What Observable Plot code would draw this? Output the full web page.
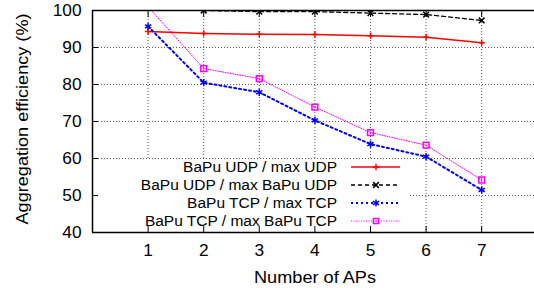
<!DOCTYPE html>
<html><head><meta charset="utf-8">
<script src="https://cdn.jsdelivr.net/npm/d3@7"></script>
<script src="https://cdn.jsdelivr.net/npm/@observablehq/plot@0.6"></script>
<style>
body{margin:0;background:#fff}
#chart{position:relative;width:534px;height:288px;overflow:hidden}
svg{font-family:"Liberation Sans",Arial,sans-serif}
</style>
</head><body><div id="chart"></div>
<script>
// ---- data ----
const aps = [1, 2, 3, 4, 5, 6, 7];
const seriesNames = [
  "BaPu UDP / max UDP",
  "BaPu UDP / max BaPu UDP",
  "BaPu TCP / max TCP",
  "BaPu TCP / max BaPu TCP"
];
const udpOverMaxUdp     = [94.3, 93.8, 93.6, 93.5, 93.2, 92.8, 91.3];
const udpOverMaxBapuUdp = [null, 100, 99.7, 99.7, 99.3, 98.9, 97.3];
const tcpOverMaxTcp     = [95.7, 80.5, 77.9, 70.3, 63.9, 60.5, 51.5];
const tcpOverMaxBapuTcp = [101, 84.3, 81.6, 73.9, 67.0, 63.6, 54.2];
const yTicks = [40, 50, 60, 70, 80, 90, 100];
const xTicks = [1, 2, 3, 4, 5, 6, 7];
const xDomain = [0, 7.95];
const xLabel = "Number of APs";
const yLabel = "Aggregation efficiency (%)";

// ---- styles ----
const styles = [
  {stroke: "#ff0000", width: 1.5, dash: null,    symbol: "plus",     r: 2.2},
  {stroke: "#000000", width: 1.3, dash: "4,3",   symbol: "times",    r: 2.7},
  {stroke: "#0000ff", width: 2,   dash: "2,3",   symbol: "asterisk", r: 3.4},
  {stroke: "#ff00ff", width: 1,   dash: "1,1.5", symbol: "square",   r: 3.3}
];
const values = [udpOverMaxUdp, udpOverMaxBapuUdp, tcpOverMaxTcp, tcpOverMaxBapuTcp];
const rows = seriesNames.flatMap((name, i) =>
  aps.map((x, j) => ({series: name, x, y: values[i][j]}))).filter(d => d.y != null);

const TICKFONT = 16, LABELFONT = 16.5, LEGFONT = 15.5;
const seriesMarks = seriesNames.flatMap((name, i) => {
  const s = styles[i];
  const data = rows.filter(d => d.series === name);
  const marks = [
    Plot.line(data, {x: "x", y: "y", stroke: s.stroke, strokeWidth: s.width,
      strokeDasharray: s.dash, clip: true}),
    Plot.dot(data, {x: "x", y: "y", symbol: s.symbol, r: s.r, stroke: s.stroke,
      fill: "none", strokeWidth: 1.5, clip: true})
  ];
  if (s.symbol === "square") marks.push(Plot.dot(data, {x: "x", y: "y", r: 0.8, fill: s.stroke, stroke: null, clip: true}));
  return marks;
});

const yDomain = [yTicks[0], yTicks[yTicks.length - 1]];
const chart = Plot.plot({
  width: 534, height: 288,
  marginLeft: 92, marginRight: 0, marginTop: 10, marginBottom: 56,
  style: {fontFamily: '"Liberation Sans",Arial,sans-serif', fontSize: TICKFONT + "px", background: "#fff", color: "#000"},
  x: {domain: xDomain},
  y: {domain: yDomain},
  marks: [
    Plot.gridX(xTicks, {stroke: "#555", strokeOpacity: 1, strokeDasharray: "1,2"}),
    Plot.gridY(yTicks.slice(1, -1), {stroke: "#555", strokeOpacity: 1, strokeDasharray: "1,2"}),
    ...seriesMarks,
    Plot.ruleX([xDomain[0]], {stroke: "#000", strokeWidth: 1.5}),
    Plot.ruleY(yDomain, {stroke: "#000", strokeWidth: 1.5}),
    Plot.axisY(yTicks, {anchor: "left", tickSize: -6, tickPadding: 17, label: null, tickFormat: d => d}),
    Plot.axisX(xTicks, {anchor: "bottom", tickSize: -6, tickPadding: 18, label: null, tickFormat: d => d}),
    Plot.axisX(xTicks, {anchor: "top", tickSize: -6, label: null, tickFormat: () => ""})
  ]
});
document.getElementById("chart").appendChild(chart);

// widen tick-label glyphs slightly, as in the reference rendering
chart.querySelectorAll('[aria-label$="tick label"] text').forEach(t => {
  const w = t.getComputedTextLength();
  if (w > 0) { t.setAttribute("textLength", w * 1.08); t.setAttribute("lengthAdjust", "spacingAndGlyphs"); }
});

// ---- layout extras: legend box, legend, axis titles ----
const svg = d3.select(chart);
const firstLine = chart.querySelector('[aria-label="line"]');
const box = document.createElementNS("http://www.w3.org/2000/svg", "rect");
box.setAttribute("x", 93); box.setAttribute("y", 159);
box.setAttribute("width", 317); box.setAttribute("height", 72);
box.setAttribute("fill", "#fff");
chart.insertBefore(box, firstLine);

const leg = svg.append("g");
const symMap = {plus: d3.symbolPlus, times: d3.symbolTimes, asterisk: d3.symbolAsterisk, square: d3.symbolSquare2};
seriesNames.forEach((name, i) => {
  const s = styles[i];
  const y = 167 + i * 18;
  leg.append("text").attr("x", 337).attr("y", y).attr("text-anchor", "end")
    .attr("dy", "0.35em").attr("font-size", LEGFONT).text(name);
  leg.append("line").attr("x1", 351).attr("x2", 400).attr("y1", y).attr("y2", y)
    .attr("stroke", s.stroke).attr("stroke-width", s.width).attr("stroke-dasharray", s.dash);
  leg.append("path").attr("transform", `translate(376,${y})`)
    .attr("d", d3.symbol(symMap[s.symbol], Math.PI * s.r * s.r)())
    .attr("fill", "none").attr("stroke", s.stroke).attr("stroke-width", 1.5);
  if (s.symbol === "square") leg.append("circle").attr("cx", 376).attr("cy", y).attr("r", 0.8).attr("fill", s.stroke);
});
svg.append("text").attr("x", 315).attr("y", 277).attr("text-anchor", "middle").attr("dy", "0.35em")
  .attr("font-size", LABELFONT).attr("textLength", 122).attr("lengthAdjust", "spacingAndGlyphs").text(xLabel);
svg.append("text").attr("transform", "translate(22,119) rotate(-90)").attr("text-anchor", "middle").attr("dy", "0.35em")
  .attr("font-size", LABELFONT).attr("textLength", 211).attr("lengthAdjust", "spacingAndGlyphs").text(yLabel);
</script>
</body></html>
